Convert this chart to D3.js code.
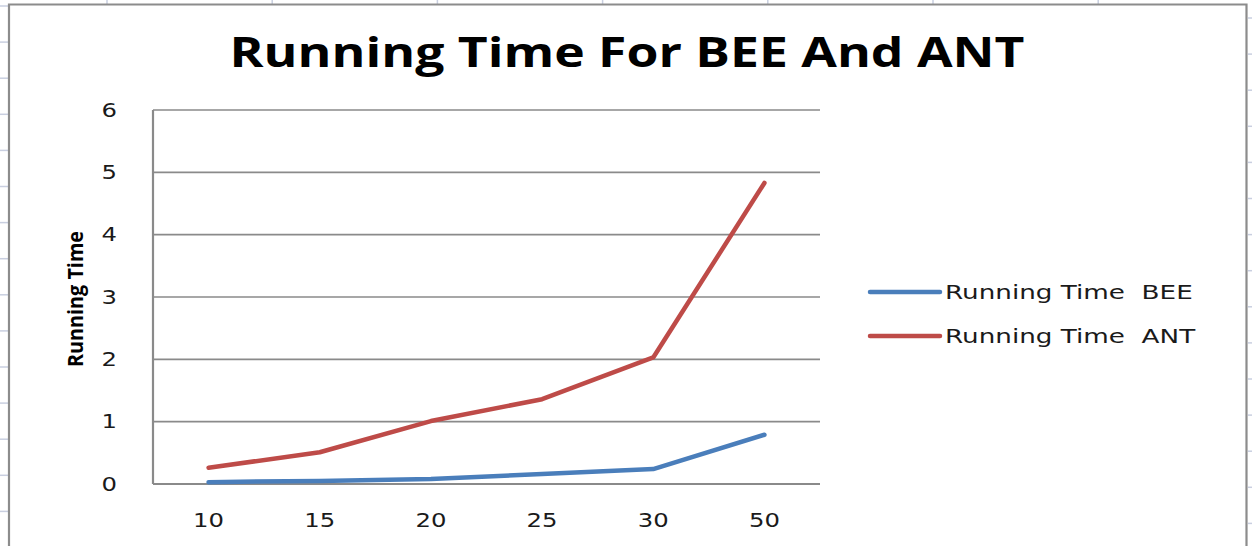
<!DOCTYPE html>
<html>
<head>
<meta charset="utf-8">
<script src="https://cdn.jsdelivr.net/npm/d3@7"></script>
<style>
  html, body { margin: 0; padding: 0; background: #fff; }
  svg { display: block; }
  text { white-space: pre; }
</style>
</head>
<body>
<script>
// Running time measurements per problem size
const categories = ["10", "15", "20", "25", "30", "50"];
const beeTimes = [0.03, 0.05, 0.08, 0.16, 0.24, 0.79];
const antTimes = [0.26, 0.51, 1.01, 1.36, 2.03, 4.83];
const seriesNames = ["Running Time  BEE", "Running Time  ANT"];
const seriesColors = ["#4A7EBB", "#BE4B48"];
const yTicks = [0, 1, 2, 3, 4, 5, 6];
const chartTitle = "Running Time For BEE And ANT";
const yTitle = "Running Time";

const W = 1252, H = 546;
const plot = { left: 153, right: 820, top: 110, bottom: 484 };
const labelFont = "'DejaVu Sans', Verdana, sans-serif";
const stretch = 1.28;       // wide lettering of the tick labels
const legendStretch = 1.38; // and of the legend entries

const svg = d3.select("body").append("svg")
  .attr("width", W).attr("height", H);

// worksheet cell grid peeking around the chart object
const sheet = svg.append("g").attr("stroke", "#c9cfe0").attr("stroke-width", 1.5);
d3.range(107, 1252, 165.2).forEach(x => {
  sheet.append("line").attr("x1", x).attr("x2", x).attr("y1", 0).attr("y2", 4);
});
d3.range(6, 546, 36.1).forEach(y => {
  sheet.append("line").attr("x1", 0).attr("x2", 8).attr("y1", y).attr("y2", y);
  sheet.append("line").attr("x1", 1248).attr("x2", 1252).attr("y1", y + 12).attr("y2", y + 12);
});

// chart object border
svg.append("path")
  .attr("d", `M9,${H + 2} V4.5 H1246.5 V${H + 2}`)
  .attr("fill", "#fff")
  .attr("stroke", "#8c8c8c")
  .attr("stroke-width", 2.2);

const x = d3.scaleBand().domain(categories).range([plot.left, plot.right]);
const y = d3.scaleLinear().domain([0, 6]).range([plot.bottom, plot.top]);

// horizontal gridlines
svg.append("g")
  .selectAll("line").data(yTicks.filter(d => d > 0)).join("line")
  .attr("x1", plot.left).attr("x2", plot.right)
  .attr("y1", d => y(d)).attr("y2", d => y(d))
  .attr("stroke", "#8a8a8a").attr("stroke-width", 1.6);

// axes
const yAxis = svg.append("g")
  .attr("transform", `translate(${plot.left},0)`)
  .call(d3.axisLeft(y).tickValues(yTicks).tickFormat(d3.format("d")).tickSize(0).tickPadding(36));
const xAxis = svg.append("g")
  .attr("transform", `translate(0,${plot.bottom})`)
  .call(d3.axisBottom(x).tickSize(0).tickPadding(30));

[yAxis, xAxis].forEach(g => {
  g.select(".domain").attr("stroke", "#8a8a8a").attr("stroke-width", 2.2);
  g.selectAll("text")
    .attr("font-family", labelFont)
    .attr("font-size", 19)
    .attr("fill", "#1a1a1a");
});
yAxis.select(".domain").attr("d", `M0,${plot.top}V${plot.bottom}`);
xAxis.select(".domain").attr("d", `M${plot.left},0H${plot.right}`);

// widen the tick lettering
svg.selectAll(".tick text").each(function () {
  const w = this.getComputedTextLength();
  d3.select(this).attr("textLength", w * stretch).attr("lengthAdjust", "spacingAndGlyphs");
});

// series lines
const line = d3.line()
  .x((d, i) => x(categories[i]) + x.bandwidth() / 2)
  .y(d => y(d));

[beeTimes, antTimes].forEach((vals, i) => {
  svg.append("path")
    .datum(vals)
    .attr("d", line)
    .attr("fill", "none")
    .attr("stroke", seriesColors[i])
    .attr("stroke-width", 4.5)
    .attr("stroke-linejoin", "round")
    .attr("stroke-linecap", "round");
});

// title
svg.append("text")
  .attr("x", 627).attr("y", 67)
  .attr("text-anchor", "middle")
  .attr("font-family", "'Liberation Sans Narrow', 'Open Sans', sans-serif")
  .attr("font-weight", "bold")
  .attr("font-size", 42)
  .attr("textLength", 795)
  .attr("lengthAdjust", "spacingAndGlyphs")
  .attr("fill", "#000")
  .text(chartTitle);

// y-axis title
svg.append("text")
  .attr("transform", "translate(83,299) rotate(-90)")
  .attr("text-anchor", "middle")
  .attr("font-family", "'Liberation Sans Narrow', 'Open Sans', sans-serif")
  .attr("font-weight", "bold")
  .attr("font-size", 21)
  .attr("textLength", 136)
  .attr("lengthAdjust", "spacingAndGlyphs")
  .attr("fill", "#000")
  .text(yTitle);

// legend
const legend = svg.append("g");
seriesNames.forEach((name, i) => {
  const ly = 292 + i * 44;
  legend.append("line")
    .attr("x1", 870).attr("x2", 940)
    .attr("y1", ly).attr("y2", ly)
    .attr("stroke", seriesColors[i])
    .attr("stroke-width", 4.5)
    .attr("stroke-linecap", "round");
  const t = legend.append("text")
    .attr("x", 945).attr("y", ly + 7)
    .attr("font-family", labelFont)
    .attr("font-size", 19)
    .attr("fill", "#1a1a1a")
    .text(name);
  t.attr("textLength", t.node().getComputedTextLength() * legendStretch)
    .attr("lengthAdjust", "spacingAndGlyphs");
});
</script>
</body>
</html>
